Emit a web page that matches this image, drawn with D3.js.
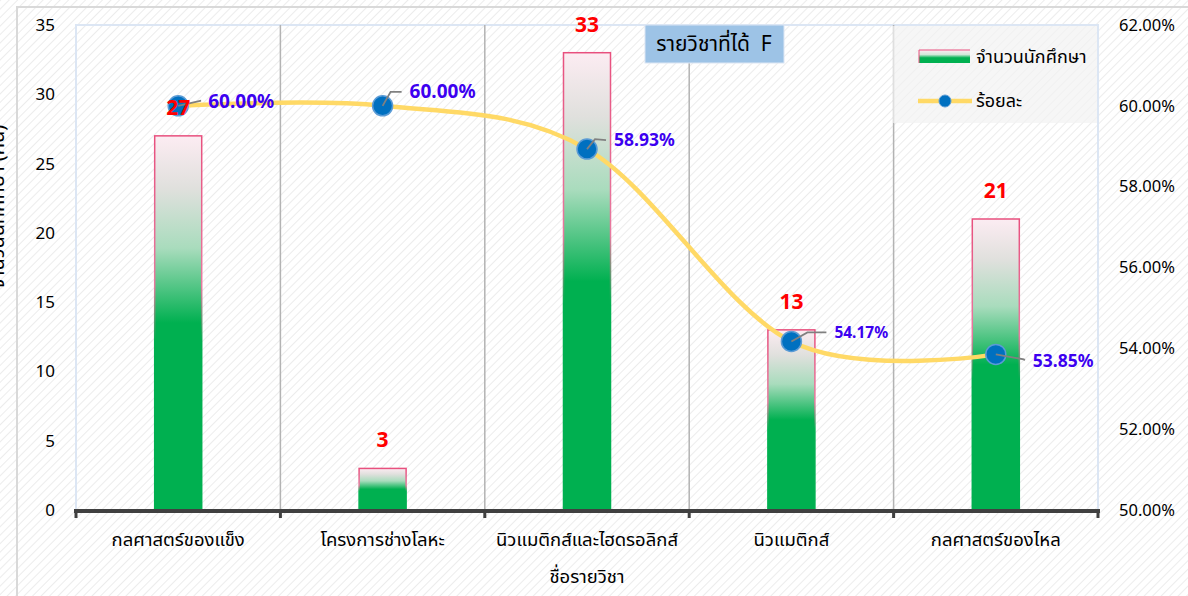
<!DOCTYPE html>
<html><head><meta charset="utf-8">
<script src="https://cdn.jsdelivr.net/npm/d3@7"></script>
<style>
html,body{margin:0;padding:0;background:#fff;}
svg{display:block;font-family:"Noto Sans","Noto Sans Thai",sans-serif;}
</style></head>
<body><svg id="c" width="1188" height="596"></svg>
<script>
const categories = ["กลศาสตร์ของแข็ง","โครงการช่างโลหะ","นิวแมติกส์และไฮดรอลิกส์","นิวแมติกส์","กลศาสตร์ของไหล"];
const students = [27, 3, 33, 13, 21];
const percents = [60.00, 60.00, 58.93, 54.17, 53.85];
const leftTicks = [0, 5, 10, 15, 20, 25, 30, 35];
const rightTicks = [50, 52, 54, 56, 58, 60, 62];
const chartTitle = "รายวิชาที่ได้  F";
const xTitle = "ชื่อรายวิชา";
const yTitle = "จำนวนนักศึกษา (คน)";
const seriesNames = ["จำนวนนักศึกษา", "ร้อยละ"];

const W = 1188, H = 596;
const P = {l: 76, r: 1098, t: 25, b: 510};
const svg = d3.select("#c");
const defs = svg.append("defs");

// hatch background
const pat = defs.append("pattern").attr("id","hatch").attr("patternUnits","userSpaceOnUse")
  .attr("width",6).attr("height",6).attr("patternTransform","rotate(45)");
pat.append("rect").attr("width",6).attr("height",6).attr("fill","#ffffff");
pat.append("line").attr("x1",0).attr("y1",0).attr("x2",0).attr("y2",6).attr("stroke","#ececec").attr("stroke-width",2);
svg.append("rect").attr("width",W).attr("height",H).attr("fill","url(#hatch)");
svg.append("rect").attr("x",17).attr("y",7).attr("width",W).attr("height",H).attr("fill","none").attr("stroke","#d9d9d9").attr("stroke-width",2);

// bar gradient
const g1 = defs.append("linearGradient").attr("id","barGrad").attr("x1",0).attr("y1",0).attr("x2",0).attr("y2",1);
[[0,"#fcecf2"],[0.14,"#e0e0dd"],[0.3,"#a9dcbd"],[0.5,"#00b050"],[1,"#00b050"]].forEach(s=>g1.append("stop").attr("offset",s[0]).attr("stop-color",s[1]));
const g2 = defs.append("linearGradient").attr("id","barStroke").attr("x1",0).attr("y1",0).attr("x2",0).attr("y2",1);
[[0,"#e8507e"],[0.4,"#e87aa0"],[0.55,"#00b050"],[1,"#00b050"]].forEach(s=>g2.append("stop").attr("offset",s[0]).attr("stop-color",s[1]));
const g3 = defs.append("linearGradient").attr("id","legGrad").attr("x1",0).attr("y1",0).attr("x2",0).attr("y2",1);
[[0,"#fcecf2"],[0.35,"#cfe8d8"],[0.6,"#00b050"],[1,"#00b050"]].forEach(s=>g3.append("stop").attr("offset",s[0]).attr("stop-color",s[1]));

const x = d3.scaleBand().domain(categories).range([P.l, P.r]).paddingInner(0).paddingOuter(0);
const yL = d3.scaleLinear().domain([0,35]).range([P.b, P.t]);
const yR = d3.scaleLinear().domain([50,62]).range([P.b, P.t]);

// plot area border
svg.append("rect").attr("x",P.l).attr("y",P.t).attr("width",P.r-P.l).attr("height",P.b-P.t)
  .attr("fill","none").attr("stroke","#dce6f4").attr("stroke-width",2);

// category separators
const bounds = categories.map(c=>x(c)).concat([P.r]);
svg.append("g").selectAll("line").data(bounds.slice(1,-1)).join("line")
  .attr("x1",d=>d).attr("x2",d=>d).attr("y1",P.t).attr("y2",P.b)
  .attr("stroke","#b3b3b3").attr("stroke-width",1.5);

// bars
const bw = x.bandwidth()*0.23;
svg.append("g").selectAll("rect").data(students).join("rect")
  .attr("x",(d,i)=>x(categories[i])+x.bandwidth()/2-bw/2)
  .attr("y",d=>yL(d)).attr("width",bw).attr("height",d=>yL(0)-yL(d))
  .attr("fill","url(#barGrad)").attr("stroke","url(#barStroke)").attr("stroke-width",1.5);

// bottom axis
svg.append("line").attr("x1",P.l-2).attr("x2",P.r+2).attr("y1",P.b+1).attr("y2",P.b+1).attr("stroke","#404040").attr("stroke-width",4);
svg.append("g").selectAll("line").data(bounds).join("line")
  .attr("x1",d=>d).attr("x2",d=>d).attr("y1",P.b).attr("y2",P.b+8).attr("stroke","#404040").attr("stroke-width",3);
svg.append("g").selectAll("text").data(categories).join("text")
  .attr("x",d=>x(d)+x.bandwidth()/2).attr("y",546).attr("text-anchor","middle")
  .attr("font-size",18.5).attr("fill","#000").text(d=>d);

// left axis
const la = svg.append("g").attr("transform",`translate(${P.l},0)`)
  .call(d3.axisLeft(yL).tickValues(leftTicks).tickSize(0).tickPadding(21).tickFormat(d3.format("d")));
la.select(".domain").remove();
la.selectAll("text").attr("font-size",17).attr("fill","#000").attr("font-family","Noto Sans");

// right axis
const ra = svg.append("g").attr("transform",`translate(${P.r},0)`)
  .call(d3.axisRight(yR).tickValues(rightTicks).tickSize(0).tickPadding(21).tickFormat(d=>d3.format(".2f")(d)+"%"));
ra.select(".domain").remove();
ra.selectAll("text").attr("font-size",16.5).attr("fill","#000").attr("font-family","Noto Sans");

// axis titles
svg.append("text").attr("x",(P.l+P.r)/2).attr("y",583).attr("text-anchor","middle").attr("font-size",18.5).attr("fill","#000").text(xTitle);
svg.append("text").attr("transform","translate(4,207) rotate(-90)").attr("text-anchor","middle").attr("font-size",20).attr("fill","#000").text(yTitle);

// line
const cx = i=>x(categories[i])+x.bandwidth()/2;
const line = d3.line().x((d,i)=>cx(i)).y(d=>yR(d)).curve(d3.curveCatmullRom.alpha(0));
svg.append("path").datum(percents).attr("d",line).attr("fill","none").attr("stroke","#ffd966").attr("stroke-width",4.5);

// markers + leader lines
const offs = [[30,-4,22,-5],[27,-14,8,-14],[27,-9,8,-10],[43,-9,16,-9],[37,6,28,5]];
svg.append("g").selectAll("circle").data(percents).join("circle")
  .attr("cx",(d,i)=>cx(i)).attr("cy",d=>yR(d)).attr("r",10)
  .attr("fill","#0070c0").attr("stroke","#5b9bd5").attr("stroke-width",1.5);
percents.forEach((p,i)=>{
  const mx = cx(i), my = yR(p), o = offs[i];
  svg.append("polyline").attr("points",`${mx},${my} ${mx+o[2]},${my+o[3]} ${mx+o[0]-8},${my+o[1]}`)
    .attr("fill","none").attr("stroke","#808080").attr("stroke-width",1.8);
});
const pctSizes = [19,19,17.5,15.5,17.5];
svg.append("g").selectAll("text").data(percents).join("text")
  .attr("x",(d,i)=>cx(i)+offs[i][0]).attr("y",(d,i)=>yR(d)+offs[i][1])
  .attr("dy","0.35em").attr("font-size",(d,i)=>pctSizes[i]).attr("font-weight","bold")
  .attr("fill","#3c00f0").text(d=>d.toFixed(2)+"%");

// value labels
svg.append("g").selectAll("text").data(students).join("text")
  .attr("x",(d,i)=>cx(i)).attr("y",d=>yL(d)-21).attr("text-anchor","middle")
  .attr("font-size",21).attr("font-weight","bold").attr("fill","#ff0000").text(d=>d);

// title box
svg.append("rect").attr("x",645).attr("y",25).attr("width",139).attr("height",38).attr("fill","#9dc3e6").attr("stroke","#dce6f4").attr("stroke-width",1);
svg.append("text").attr("x",714).attr("y",44).attr("dy","0.35em").attr("text-anchor","middle").attr("font-size",21).attr("fill","#000").style("white-space","pre").text(chartTitle);

// legend
svg.append("rect").attr("x",893).attr("y",26).attr("width",204).attr("height",97).attr("fill","#f2f2f2").attr("fill-opacity",0.7);
svg.append("rect").attr("x",919).attr("y",50).attr("width",51).attr("height",13).attr("fill","url(#legGrad)").attr("stroke","#e8507e").attr("stroke-width",1).attr("stroke-dasharray","51,64");
svg.append("text").attr("x",976).attr("y",57).attr("dy","0.35em").attr("font-size",18).attr("fill","#000").text(seriesNames[0]);
svg.append("line").attr("x1",918).attr("x2",972).attr("y1",101).attr("y2",101).attr("stroke","#ffd966").attr("stroke-width",4.5);
svg.append("circle").attr("cx",945).attr("cy",101).attr("r",6).attr("fill","#0070c0").attr("stroke","#5b9bd5").attr("stroke-width",1);
svg.append("text").attr("x",976).attr("y",101).attr("dy","0.35em").attr("font-size",18).attr("fill","#000").text(seriesNames[1]);
</script></body></html>
